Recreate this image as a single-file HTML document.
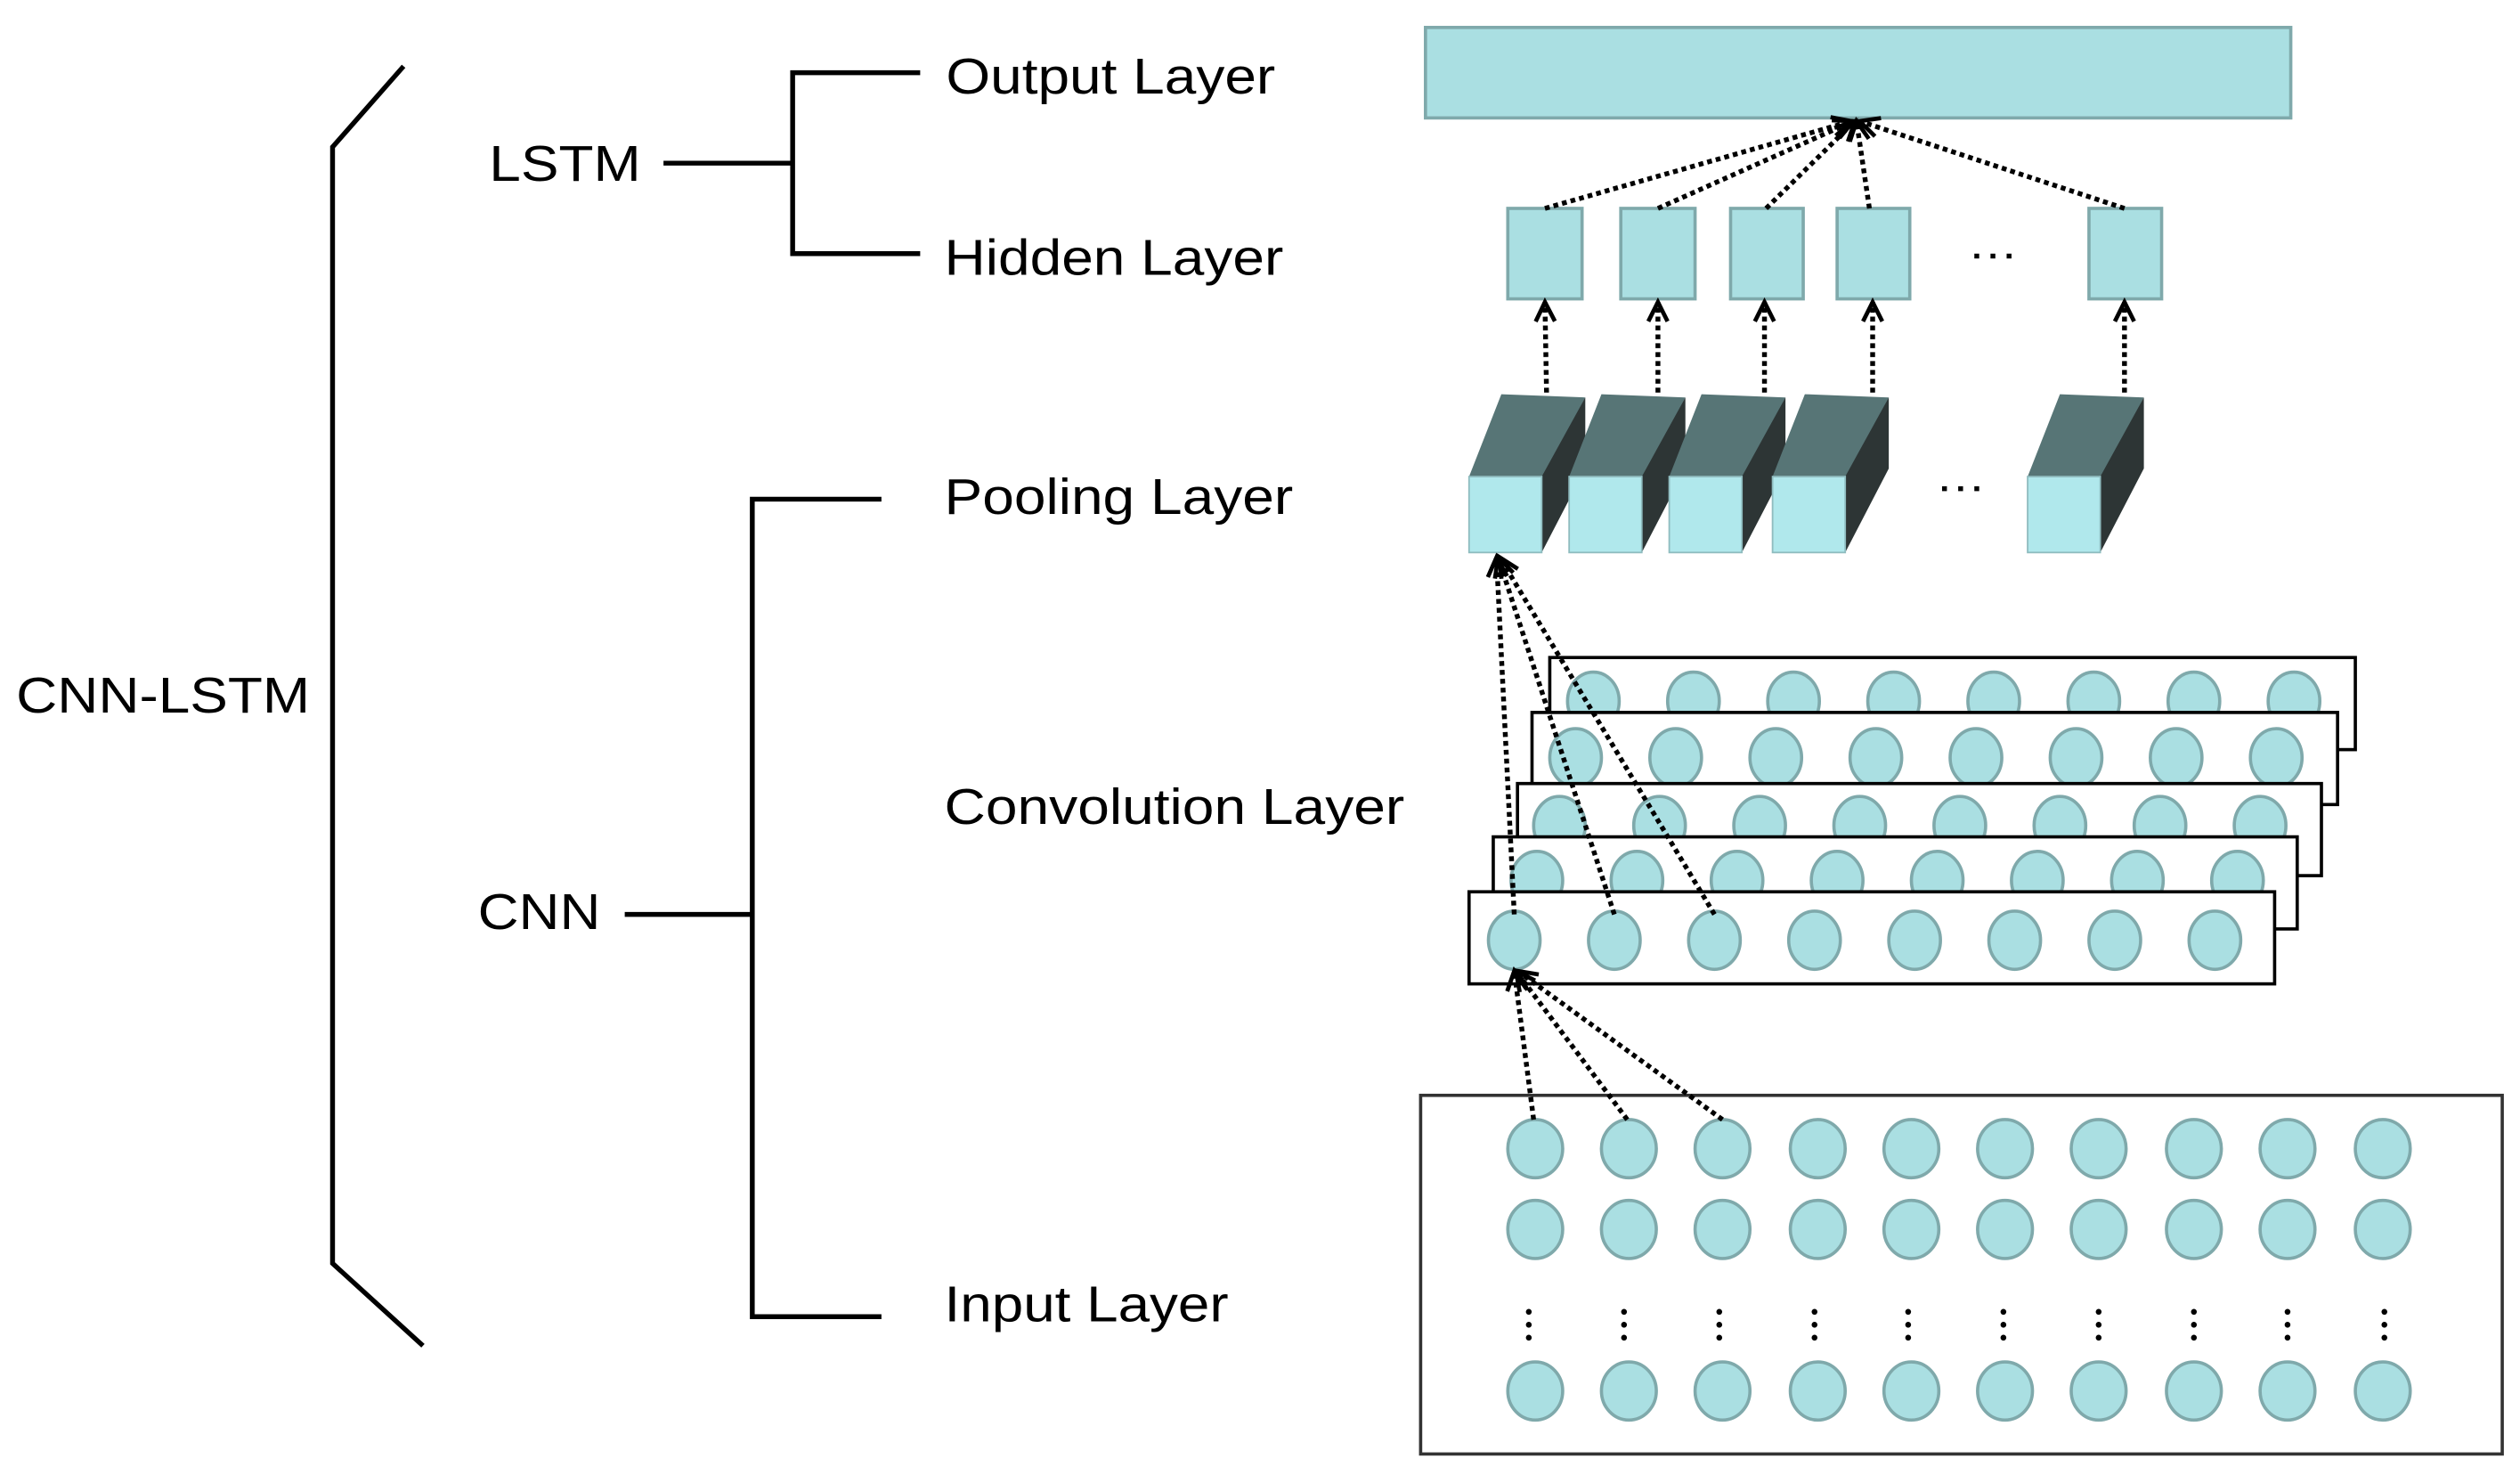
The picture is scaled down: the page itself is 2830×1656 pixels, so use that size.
<!DOCTYPE html>
<html><head><meta charset="utf-8"><style>html,body{margin:0;padding:0;background:#fff}svg{display:block}</style></head><body>
<svg width="2830" height="1656" viewBox="0 0 1561 913" preserveAspectRatio="none" xmlns="http://www.w3.org/2000/svg">
<defs>
<marker id="ah" viewBox="0 0 12 12" refX="11" refY="6" markerWidth="13" markerHeight="13" orient="auto" markerUnits="userSpaceOnUse" overflow="visible">
<path d="M0,0.5 L11,6 L0,11.5" fill="none" stroke="#000" stroke-width="2.4"/>
</marker>
</defs>
<g font-family="Liberation Sans, Arial, sans-serif" font-size="31" fill="#000">
<text x="10" y="441" textLength="182" lengthAdjust="spacingAndGlyphs">CNN-LSTM</text>
<text x="303" y="112" textLength="94" lengthAdjust="spacingAndGlyphs">LSTM</text>
<text x="296" y="575" textLength="76" lengthAdjust="spacingAndGlyphs">CNN</text>
<text x="586" y="58" textLength="204" lengthAdjust="spacingAndGlyphs">Output Layer</text>
<text x="585" y="170" textLength="210" lengthAdjust="spacingAndGlyphs">Hidden Layer</text>
<text x="585" y="318" textLength="216" lengthAdjust="spacingAndGlyphs">Pooling Layer</text>
<text x="585" y="510" textLength="285" lengthAdjust="spacingAndGlyphs">Convolution Layer</text>
<text x="585" y="818" textLength="176" lengthAdjust="spacingAndGlyphs">Input Layer</text>
</g>
<g fill="none" stroke="#000" stroke-width="3">
<polyline points="250,41 206,91 206,782 262,833"/>
<line x1="411" y1="101" x2="491" y2="101"/>
<polyline points="570,45 491,45 491,157 570,157"/>
<line x1="387" y1="566" x2="466" y2="566"/>
<polyline points="546,309 466,309 466,815 546,815"/>
</g>
<rect x="883" y="17" width="536" height="56" fill="#aadfe2" stroke="#7fa9ab" stroke-width="2"/>
<g fill="#aadfe2" stroke="#7fa9ab" stroke-width="2">
<rect x="934" y="129" width="46" height="56"/>
<rect x="1004" y="129" width="46" height="56"/>
<rect x="1072" y="129" width="45" height="56"/>
<rect x="1138" y="129" width="45" height="56"/>
<rect x="1294" y="129" width="45" height="56"/>
</g>
<g fill="#000">
<rect x="1223" y="157" width="3" height="3"/><rect x="1233" y="157" width="3" height="3"/><rect x="1243" y="157" width="3" height="3"/>
<rect x="1203" y="301" width="3" height="3"/><rect x="1213" y="301" width="3" height="3"/><rect x="1223" y="301" width="3" height="3"/>
</g>
<g stroke="#000" stroke-width="3" stroke-dasharray="3 2.5" fill="none" marker-end="url(#ah)">
<line x1="957" y1="129" x2="1147" y2="75"/>
<line x1="1027" y1="129" x2="1148" y2="75"/>
<line x1="1094" y1="129" x2="1149" y2="75"/>
<line x1="1158" y1="129" x2="1150" y2="75"/>
<line x1="1316" y1="129" x2="1152" y2="75"/>
<line x1="958" y1="243" x2="957" y2="187"/>
<line x1="1027" y1="243" x2="1027" y2="187"/>
<line x1="1093" y1="243" x2="1093" y2="187"/>
<line x1="1160" y1="243" x2="1160" y2="187"/>
<line x1="1316" y1="243" x2="1316" y2="187"/>
</g>
<g>
<g id="cb">
<polygon points="910,295 930,244 982,246 957,295" fill="#577576"/>
<polygon points="955,295 982,246 982,290 955,342" fill="#2d3535"/>
<rect x="910" y="295" width="45" height="47" fill="#b0e8ec" stroke="#8fbcbf" stroke-width="1"/>
</g>
<use href="#cb" x="62"/>
<use href="#cb" x="124"/>
<use href="#cb" x="188"/>
<use href="#cb" x="346"/>
</g>
<g stroke-width="2">
<rect x="960" y="407" width="499" height="57" fill="#fff" stroke="#000"/>
<g fill="#aadfe2" stroke="#7fa9ab"><ellipse cx="987" cy="434" rx="16" ry="18"/><ellipse cx="1049" cy="434" rx="16" ry="18"/><ellipse cx="1111" cy="434" rx="16" ry="18"/><ellipse cx="1173" cy="434" rx="16" ry="18"/><ellipse cx="1235" cy="434" rx="16" ry="18"/><ellipse cx="1297" cy="434" rx="16" ry="18"/><ellipse cx="1359" cy="434" rx="16" ry="18"/><ellipse cx="1421" cy="434" rx="16" ry="18"/></g>
<rect x="949" y="441" width="499" height="57" fill="#fff" stroke="#000"/>
<g fill="#aadfe2" stroke="#7fa9ab"><ellipse cx="976" cy="469" rx="16" ry="18"/><ellipse cx="1038" cy="469" rx="16" ry="18"/><ellipse cx="1100" cy="469" rx="16" ry="18"/><ellipse cx="1162" cy="469" rx="16" ry="18"/><ellipse cx="1224" cy="469" rx="16" ry="18"/><ellipse cx="1286" cy="469" rx="16" ry="18"/><ellipse cx="1348" cy="469" rx="16" ry="18"/><ellipse cx="1410" cy="469" rx="16" ry="18"/></g>
<rect x="940" y="485" width="498" height="57" fill="#fff" stroke="#000"/>
<g fill="#aadfe2" stroke="#7fa9ab"><ellipse cx="966" cy="511" rx="16" ry="18"/><ellipse cx="1028" cy="511" rx="16" ry="18"/><ellipse cx="1090" cy="511" rx="16" ry="18"/><ellipse cx="1152" cy="511" rx="16" ry="18"/><ellipse cx="1214" cy="511" rx="16" ry="18"/><ellipse cx="1276" cy="511" rx="16" ry="18"/><ellipse cx="1338" cy="511" rx="16" ry="18"/><ellipse cx="1400" cy="511" rx="16" ry="18"/></g>
<rect x="925" y="518" width="498" height="57" fill="#fff" stroke="#000"/>
<g fill="#aadfe2" stroke="#7fa9ab"><ellipse cx="952" cy="545" rx="16" ry="18"/><ellipse cx="1014" cy="545" rx="16" ry="18"/><ellipse cx="1076" cy="545" rx="16" ry="18"/><ellipse cx="1138" cy="545" rx="16" ry="18"/><ellipse cx="1200" cy="545" rx="16" ry="18"/><ellipse cx="1262" cy="545" rx="16" ry="18"/><ellipse cx="1324" cy="545" rx="16" ry="18"/><ellipse cx="1386" cy="545" rx="16" ry="18"/></g>
<rect x="910" y="552" width="499" height="57" fill="#fff" stroke="#000"/>
<g fill="#aadfe2" stroke="#7fa9ab"><ellipse cx="938" cy="582" rx="16" ry="18"/><ellipse cx="1000" cy="582" rx="16" ry="18"/><ellipse cx="1062" cy="582" rx="16" ry="18"/><ellipse cx="1124" cy="582" rx="16" ry="18"/><ellipse cx="1186" cy="582" rx="16" ry="18"/><ellipse cx="1248" cy="582" rx="16" ry="18"/><ellipse cx="1310" cy="582" rx="16" ry="18"/><ellipse cx="1372" cy="582" rx="16" ry="18"/></g>
</g>
<rect x="880" y="678" width="670" height="222" fill="#fff" stroke="#333" stroke-width="2"/>
<g fill="#aadfe2" stroke="#7fa9ab" stroke-width="2" id="irow">
<ellipse cx="951" cy="711" rx="17" ry="18"/><ellipse cx="1009" cy="711" rx="17" ry="18"/><ellipse cx="1067" cy="711" rx="17" ry="18"/><ellipse cx="1126" cy="711" rx="17" ry="18"/><ellipse cx="1184" cy="711" rx="17" ry="18"/><ellipse cx="1242" cy="711" rx="17" ry="18"/><ellipse cx="1300" cy="711" rx="17" ry="18"/><ellipse cx="1359" cy="711" rx="17" ry="18"/><ellipse cx="1417" cy="711" rx="17" ry="18"/><ellipse cx="1476" cy="711" rx="17" ry="18"/>
</g>
<use href="#irow" y="50"/>
<use href="#irow" y="150"/>
<g fill="#000" id="drow">
<circle cx="947" cy="812" r="1.8"/><circle cx="947" cy="820" r="1.8"/><circle cx="947" cy="828" r="1.8"/>
</g>
<use href="#drow" x="59"/><use href="#drow" x="118"/><use href="#drow" x="177"/><use href="#drow" x="235"/><use href="#drow" x="294"/><use href="#drow" x="353"/><use href="#drow" x="412"/><use href="#drow" x="470"/><use href="#drow" x="530"/>
<g stroke="#000" stroke-width="3" stroke-dasharray="3 2.5" fill="none" marker-end="url(#ah)">
<line x1="938" y1="566" x2="927" y2="345"/>
<line x1="1000" y1="566" x2="928" y2="345"/>
<line x1="1062" y1="566" x2="929" y2="345"/>
<line x1="950" y1="693" x2="938" y2="601"/>
<line x1="1008" y1="693" x2="939" y2="601"/>
<line x1="1067" y1="693" x2="940" y2="601"/>
</g>
</svg>
</body></html>
